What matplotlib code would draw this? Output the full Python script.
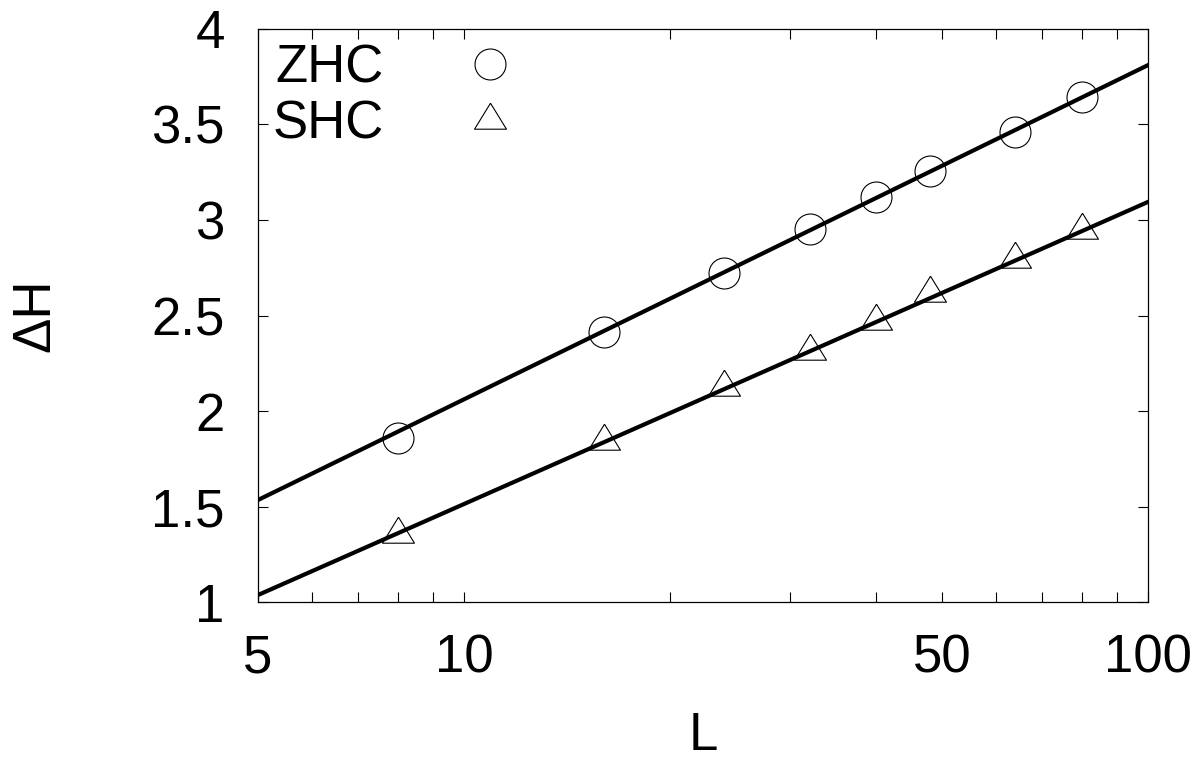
import numpy as np
import matplotlib
matplotlib.use("Agg")
import matplotlib.pyplot as plt
from matplotlib.ticker import FixedLocator, FixedFormatter, NullFormatter

plt.rcParams['font.family'] = ['Liberation Sans', 'DejaVu Sans']

# system sizes
L = [8, 16, 24, 32, 40, 48, 64, 80]

# Delta H values
zhc = [1.857, 2.415, 2.724, 2.953, 3.119, 3.258, 3.461, 3.646]
shc = [1.357, 1.843, 2.125, 2.313, 2.471, 2.617, 2.796, 2.949]

# fitted lines  dH = a + b*ln(L)
zhc_fit = [0.311, 0.760]
shc_fit = [-0.069, 0.687]

x_major = [5, 10, 50, 100]
x_major_labels = ['5', '10', '50', '100']
x_minor = [6, 7, 8, 9, 20, 30, 40, 60, 70, 80, 90]
y_ticks = [1, 1.5, 2, 2.5, 3, 3.5, 4]
y_labels = ['1', '1.5', '2', '2.5', '3', '3.5', '4']

fs = 38

fig = plt.figure(figsize=(12, 7.61), dpi=100)
ax = fig.add_axes([0.215, 0.2089, 0.7417, 0.753])

# triangle with its centroid on the data point (gnuplot style)
tri = [(0, 17.3), (-16, -8.7), (16, -8.7), (0, 17.3)]

ax.plot(L, zhc, linestyle='none', marker='o', ms=22.3, mfc='none',
        mec='black', mew=0.8, label='ZHC')
ax.plot(L, shc, linestyle='none', marker=tri, ms=24.9, mfc='none',
        mec='black', mew=0.8, label='SHC')

xx = np.geomspace(5, 100, 200)
ax.plot(xx, zhc_fit[0] + zhc_fit[1] * np.log(xx), color='black', lw=3.0)
ax.plot(xx, shc_fit[0] + shc_fit[1] * np.log(xx), color='black', lw=3.0)

ax.set_xscale('log')
ax.set_xlim(5, 100)
ax.set_ylim(1, 4)

ax.xaxis.set_major_locator(FixedLocator(x_major))
ax.xaxis.set_major_formatter(FixedFormatter(x_major_labels))
ax.xaxis.set_minor_locator(FixedLocator(x_minor))
ax.xaxis.set_minor_formatter(NullFormatter())
ax.yaxis.set_major_locator(FixedLocator(y_ticks))
ax.yaxis.set_major_formatter(FixedFormatter(y_labels))

ax.tick_params(which='both', direction='in', top=True, right=True,
               length=7.2, width=0.8, labelsize=fs)
ax.tick_params(axis='x', which='major', pad=23)
ax.tick_params(axis='y', which='major', pad=24)
for s in ax.spines.values():
    s.set_linewidth(0.9)

ax.set_xlabel('L', fontsize=fs)
ax.xaxis.set_label_coords(0.5, -0.19)
ax.set_ylabel('ΔH', fontsize=fs)
ax.yaxis.set_label_coords(-0.222, 0.5)

ax.legend(loc='upper left', markerfirst=False, frameon=False, fontsize=fs,
          borderaxespad=0, borderpad=0.28, handlelength=1.2,
          handletextpad=1.4, labelspacing=0.1)

fig.savefig('out.png', dpi=100)
